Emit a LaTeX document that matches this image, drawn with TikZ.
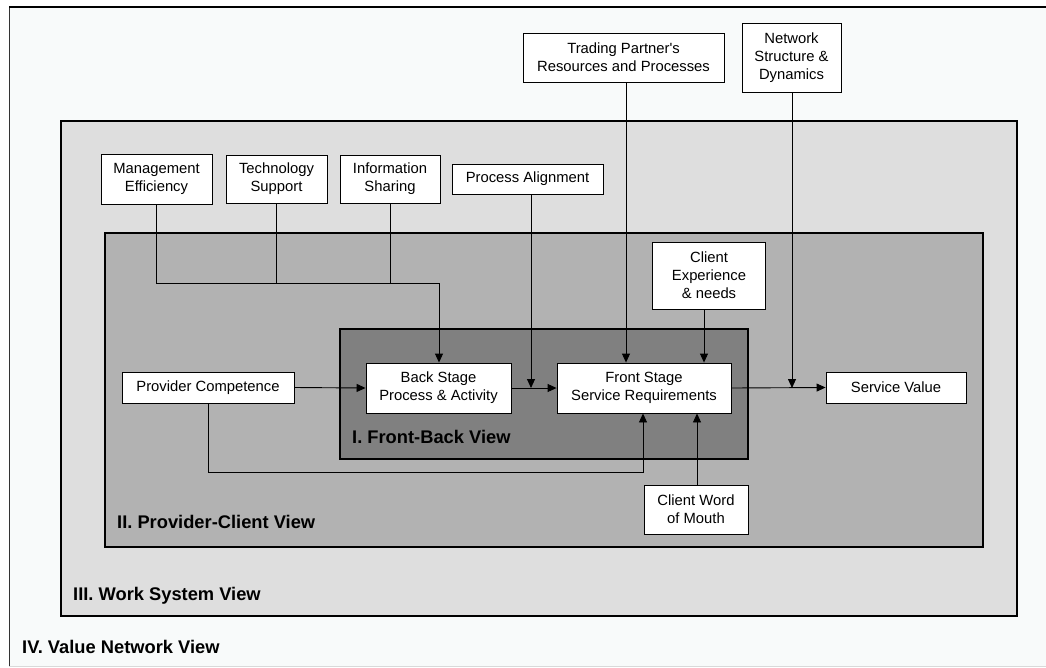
\documentclass[tikz,border=0pt]{standalone}
\usepackage{fontspec}
\setmainfont{Liberation Sans}
\usetikzlibrary{arrows.meta}
\definecolor{ivfill}{HTML}{F8FAFA}
\definecolor{iiifill}{HTML}{DEDEDE}
\definecolor{iifill}{HTML}{B2B2B2}
\definecolor{ifill}{HTML}{808080}
\begin{document}
\begin{tikzpicture}[x=1pt,y=-1pt,
  box/.style={draw=black, fill=white, line width=0.9pt, align=center, inner sep=0pt,
    font=\fontsize{14.8}{18}\selectfont},
  viewframe/.style={draw=black, line width=2pt},
  viewlabel/.style={anchor=base west, inner sep=0pt, font=\fontsize{18.3}{20}\selectfont\bfseries},
  link/.style={draw=black, line width=0.9pt},
  arr/.style={link, -{Triangle[length=9pt,width=8pt]}},
]
\useasboundingbox (0,0) rectangle (1046,667);
\fill[white] (0,0) rectangle (1046,667);

% IV. Value network frame (open on the right)
\fill[ivfill] (9,7) rectangle (1046,666);
\draw[black!80, line width=1pt] (9,666) -- (9,7);
\draw[black, line width=2.2pt] (9,7) -- (1046,7);
\draw[black!15, line width=1pt] (9,666) -- (1046,666);
\node[viewlabel] (lbliv) at (22,653) {IV. Value Network View};

% III. Work system frame
\draw[viewframe, fill=iiifill] (61,121) rectangle (1017,616);
\node[viewlabel] (lbliii) at (73,600) {III. Work System View};

% II. Provider-client frame
\draw[viewframe, fill=iifill] (105,233) rectangle (983,547);
\node[viewlabel] (lblii) at (117,528) {II. Provider-Client View};

% I. Front-back frame
\draw[viewframe, fill=ifill] (340,329) rectangle (748,459);
\node[viewlabel] (lbli) at (352,443) {I. Front-Back View};

% Factor boxes
\node[box, minimum width=201, minimum height=49] (trading) at (623.5,57.5) {Trading Partner\textquotesingle s\\Resources and Processes};
\node[box, minimum width=99, minimum height=69] (network) at (791.5,57.5) {Network\\Structure \&\\Dynamics};
\node[box, minimum width=111, minimum height=50] (mgmt) at (156.5,179) {Management\\Efficiency};
\node[box, minimum width=101, minimum height=48] (tech) at (276.5,179) {Technology\\Support};
\node[box, minimum width=100, minimum height=48] (info) at (390,179) {Information\\Sharing};
\node[box, minimum width=151, minimum height=30] (procal) at (527.5,179) {Process Alignment};
\node[box, minimum width=113, minimum height=67] (clientexp) at (709,275.5) {Client\\Experience\\\& needs};
\node[box, minimum width=172, minimum height=31] (provider) at (208,387.5) {Provider Competence};
\node[box, minimum width=145, minimum height=50] (back) at (438.5,388) {Back Stage\\Process \& Activity};
\node[box, minimum width=174, minimum height=50] (front) at (644,388) {Front Stage\\Service Requirements};
\node[box, minimum width=140, minimum height=31] (value) at (896,387.5) {Service Value};
\node[box, minimum width=104, minimum height=49] (wom) at (696,509.5) {Client Word\\of Mouth};

% Routing points
\coordinate (jback) at (439,283);
\coordinate (xpa) at (531,0);
\coordinate (xtp) at (626,0);
\coordinate (xce) at (704,0);
\coordinate (xns) at (792,0);
\coordinate (xpc) at (643,472);
\coordinate (xwm) at (697,0);

% Work system inputs into the back stage
\draw[link] (mgmt.south) |- (jback);
\draw[link] (tech.south) -- (tech.south |- jback);
\draw[link] (info.south) -- (info.south |- jback);
\draw[arr] (jback) -- (back.north -| jback);

% Provider competence
\draw[arr] (provider.east) -- (back.west);
\draw[arr] (provider.south) |- (xpc) -- (front.south -| xpc);

% Back stage to front stage, with process alignment
\draw[arr] (back.east) -- (front.west);
\draw[arr] (procal.south -| xpa) -- (back.east -| xpa);

% Front stage inputs
\draw[arr] (trading.south -| xtp) -- (front.north -| xtp);
\draw[arr] (clientexp.south -| xce) -- (front.north -| xce);
\draw[arr] (wom.north -| xwm) -- (front.south -| xwm);

% Service value, with network structure
\draw[arr] (front.east) -- (value.west);
\draw[arr] (network.south -| xns) -- (front.east -| xns);
\end{tikzpicture}
\end{document}
